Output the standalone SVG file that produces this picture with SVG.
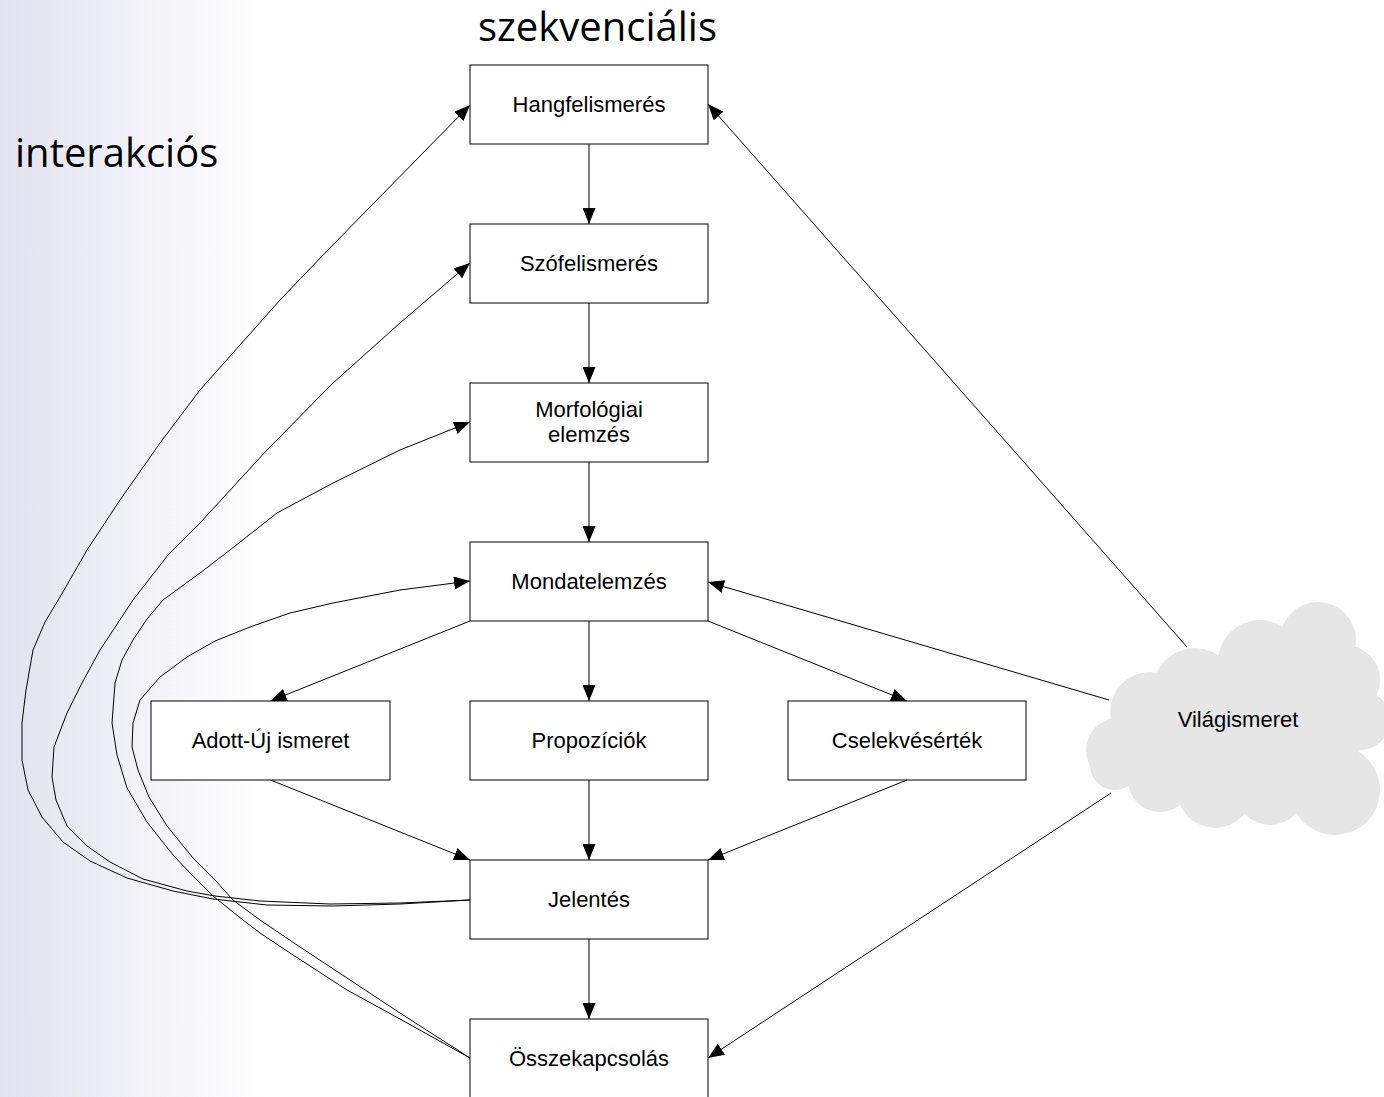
<svg xmlns="http://www.w3.org/2000/svg" width="1384" height="1097" viewBox="0 0 1384 1097">
<defs>
<linearGradient id="bg" x1="0" y1="0" x2="260" y2="0" gradientUnits="userSpaceOnUse">
<stop offset="0" stop-color="#E2E2EF"/>
<stop offset="1" stop-color="#FFFFFF"/>
</linearGradient>
<marker id="arr" markerWidth="16" markerHeight="13" refX="16" refY="6.5" orient="auto" markerUnits="userSpaceOnUse">
<path d="M0,0 L16,6.5 L0,13 z" fill="#000"/>
</marker>
<style>
.box{fill:#fff;stroke:#000;stroke-width:1}
.lbl{font-family:"Liberation Sans",Arial,sans-serif;font-size:22px;fill:#000;text-anchor:middle}
.big{font-family:"Open Sans","Noto Sans",sans-serif;font-size:40px;fill:#000}
.con{fill:none;stroke:#000;stroke-width:1;stroke-linejoin:round;marker-end:url(#arr)}
.cloud{fill:#E6E6E6;stroke:none}
</style>
</defs>
<rect x="0" y="0" width="1384" height="1097" fill="url(#bg)"/>
<text class="big" x="478" y="41">szekvenciális</text>
<text class="big" x="15" y="167">interakciós</text>

<g id="vilagismeret">
<circle class="cloud" cx="1118" cy="750" r="32"/>
<circle class="cloud" cx="1150" cy="712" r="40"/>
<circle class="cloud" cx="1195" cy="690" r="42"/>
<circle class="cloud" cx="1260" cy="662" r="42"/>
<circle class="cloud" cx="1318" cy="640" r="38"/>
<circle class="cloud" cx="1345" cy="680" r="35"/>
<circle class="cloud" cx="1360" cy="720" r="30"/>
<circle class="cloud" cx="1335" cy="790" r="45"/>
<circle class="cloud" cx="1270" cy="790" r="35"/>
<circle class="cloud" cx="1215" cy="790" r="38"/>
<circle class="cloud" cx="1160" cy="780" r="32"/>
<circle class="cloud" cx="1115" cy="765" r="25"/>
<ellipse class="cloud" cx="1240" cy="740" rx="120" ry="65"/>
<polygon class="cloud" points="1150,700 1200,670 1260,650 1320,640 1350,670 1365,720 1350,790 1300,810 1200,800 1130,780"/>
<text class="lbl" x="1238" y="727">Világismeret</text>
</g>

<g id="hangfelismeres"><rect class="box" x="470" y="65" width="238" height="79"/><text class="lbl" x="589" y="112">Hangfelismerés</text></g>
<g id="szofelismeres"><rect class="box" x="470" y="224" width="238" height="79"/><text class="lbl" x="589" y="271">Szófelismerés</text></g>
<g id="morfologiai"><rect class="box" x="470" y="383" width="238" height="79"/><text class="lbl" x="589" y="417">Morfológiai</text><text class="lbl" x="589" y="442">elemzés</text></g>
<g id="mondatelemzes"><rect class="box" x="470" y="542" width="238" height="79"/><text class="lbl" x="589" y="589">Mondatelemzés</text></g>
<g id="adott-uj"><rect class="box" x="151" y="701" width="239" height="79"/><text class="lbl" x="270.5" y="748">Adott-Új ismeret</text></g>
<g id="propoziciok"><rect class="box" x="470" y="701" width="238" height="79"/><text class="lbl" x="589" y="748">Propozíciók</text></g>
<g id="cselekveserték"><rect class="box" x="788" y="701" width="238" height="79"/><text class="lbl" x="907" y="748">Cselekvésérték</text></g>
<g id="jelentes"><rect class="box" x="470" y="860" width="238" height="79"/><text class="lbl" x="589" y="907">Jelentés</text></g>
<g id="osszekapcsolas"><rect class="box" x="470" y="1019" width="238" height="79"/><text class="lbl" x="589" y="1066">Összekapcsolás</text></g>

<g id="connectors">
<line class="con" x1="589" y1="144" x2="589" y2="224"/>
<line class="con" x1="589" y1="303" x2="589" y2="383"/>
<line class="con" x1="589" y1="462" x2="589" y2="542"/>
<line class="con" x1="589" y1="621" x2="589" y2="701"/>
<line class="con" x1="589" y1="780" x2="589" y2="860"/>
<line class="con" x1="589" y1="939" x2="589" y2="1019"/>
<line class="con" x1="470" y1="621" x2="270.5" y2="701"/>
<line class="con" x1="708" y1="621" x2="907" y2="701"/>
<line class="con" x1="270.5" y1="780" x2="470" y2="860"/>
<line class="con" x1="907" y1="780" x2="708" y2="860"/>
<line class="con" x1="1109" y1="700" x2="708" y2="582"/>
<line class="con" x1="1187" y1="647" x2="708" y2="104"/>
<line class="con" x1="1111" y1="793" x2="708" y2="1058"/>
<polyline class="con" points="470,900 400,904 333,906 267,905 213,899 173,891 127,878 90,861 63,842 42,817 28,790 22,760 22,723 26,690 33,650 45,622 60,597 87,550 120,500 160,443 200,390 240,345 280,300 327,251 370,207 470,105"/>
<polyline class="con" points="470,900 400,903 330,904 260,901 215,896 187,891 143,879 110,862 87,846 67,826 56,800 52,777 54,747 67,713 82,683 100,650 133,600 168,555 200,523 233,487 267,450 333,383 400,323 470,263"/>
<polyline class="con" points="470,1058 400,1019 347,990 290,953 260,933 243,920 213,896 190,873 173,855 147,822 127,788 117,755 112,723 115,683 122,660 133,640 147,619 163,600 200,573 230,550 277,513 333,483 400,450 470,422"/>
<polyline class="con" points="470,1058 400,1013 350,980 300,947 260,920 233,900 215,880 193,858 167,826 149,797 138,770 132,747 133,723 140,700 160,677 187,657 215,641 250,627 290,613 333,603 400,590 470,581"/>
</g>
</svg>
